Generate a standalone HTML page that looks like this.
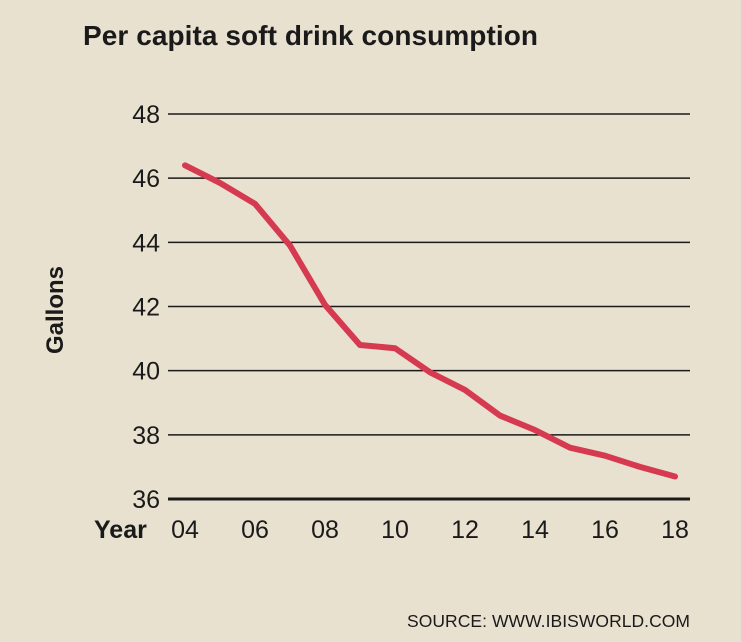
<!DOCTYPE html>
<html><head><meta charset="utf-8"><style>
html,body{margin:0;padding:0;background:#e8e1d0;}
svg{display:block;font-family:"Liberation Sans",sans-serif;}
</style></head><body>
<svg id="chart" width="741" height="642">
<rect width="741" height="642" fill="#e8e1d0"/>
<text x="83" y="45" font-size="28" font-weight="bold" fill="#1a1a1a" textLength="455">Per capita soft drink consumption</text>
<text transform="translate(63,310) rotate(-90)" text-anchor="middle" font-size="24" font-weight="bold" fill="#1a1a1a">Gallons</text>
<text x="94" y="538" font-size="25" font-weight="bold" fill="#1a1a1a">Year</text>
<text x="690" y="627" text-anchor="end" font-size="17.5" fill="#1a1a1a" textLength="283">SOURCE: WWW.IBISWORLD.COM</text>
<g id="grid"></g><g id="xt"></g><g id="series"></g>
</svg>
<script>
const years=[4,5,6,7,8,9,10,11,12,13,14,15,16,17,18];
const gallons=[46.4,45.85,45.2,43.9,42.05,40.8,40.7,39.95,39.4,38.6,38.15,37.6,37.35,37.0,36.7];
const yTicks=[36,38,40,42,44,46,48];
const xTicks=[4,6,8,10,12,14,16,18];
const ns="http://www.w3.org/2000/svg";
const y=v=>499-(v-36)*(499-114)/12;
const x=v=>185+(v-4)*35;
const grid=document.getElementById('grid');
yTicks.forEach(t=>{
 const l=document.createElementNS(ns,'line');
 l.setAttribute('x1',168);l.setAttribute('x2',690);l.setAttribute('y1',y(t));l.setAttribute('y2',y(t));
 l.setAttribute('stroke','#1a1a1a');l.setAttribute('stroke-width',t===36?3:1.5);
 
 
 grid.appendChild(l);
 const tx=document.createElementNS(ns,'text');
 tx.setAttribute('x',160);tx.setAttribute('y',y(t)+9);tx.setAttribute('text-anchor','end');
 tx.setAttribute('font-size','25');tx.setAttribute('fill','#1a1a1a');tx.textContent=t;
 
 
 grid.appendChild(tx);
});
const xt=document.getElementById('xt');
xTicks.forEach(t=>{
 const tx=document.createElementNS(ns,'text');
 tx.setAttribute('x',x(t));tx.setAttribute('y',538);tx.setAttribute('text-anchor','middle');
 tx.setAttribute('font-size','25');tx.setAttribute('fill','#1a1a1a');tx.textContent=String(t).padStart(2,'0');
 
 
 xt.appendChild(tx);
});
const p=document.createElementNS(ns,'polyline');
p.setAttribute('points',years.map((yr,i)=>x(yr)+','+y(gallons[i])).join(' '));
p.setAttribute('fill','none');p.setAttribute('stroke','#d63a50');p.setAttribute('stroke-width','6');
p.setAttribute('stroke-linejoin','round');p.setAttribute('stroke-linecap','round');


document.getElementById('series').appendChild(p);
</script>
</body></html>
